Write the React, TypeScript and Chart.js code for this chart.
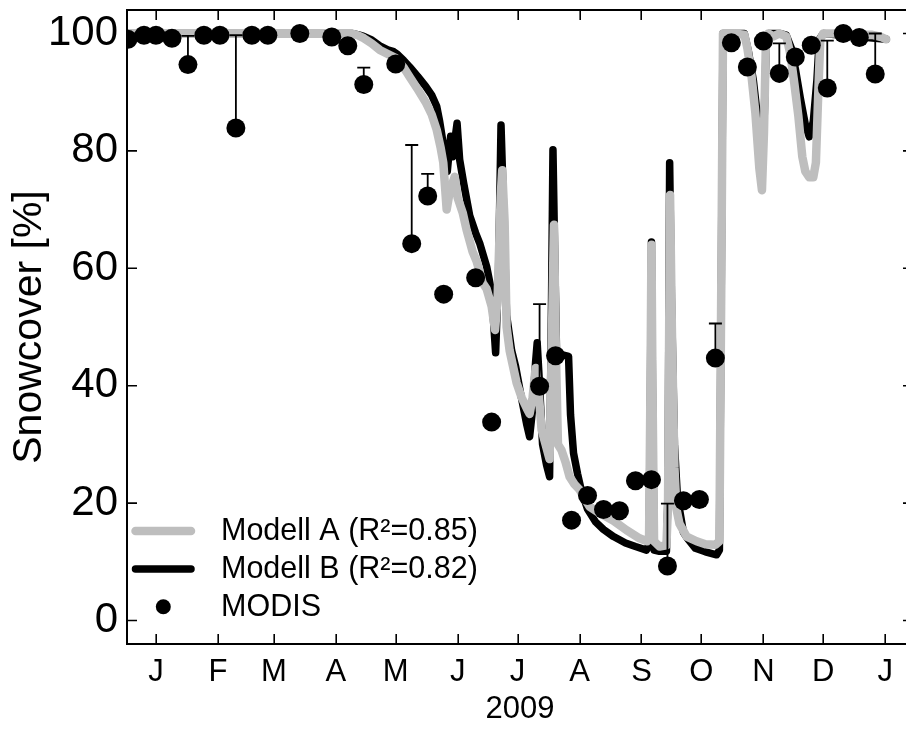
import React, { useEffect, useRef } from "react";
import { Chart, registerables } from "chart.js";

Chart.register(...registerables);

const FONT = "'Liberation Sans', Arial, Helvetica, sans-serif";

// x values are days relative to 1 Jan 2009
const monthStartDays = [0, 31, 59, 90, 120, 151, 181, 212, 243, 273, 304, 334, 365];
const monthLetters = ["J", "F", "M", "A", "M", "J", "J", "A", "S", "O", "N", "D", "J"];
const yTickValues = [0, 20, 40, 60, 80, 100];
const X_MIN = -14.5;
const X_MAX = 378.9; // the plot box ends just past the right edge of the picture

const modelADays = [
  -16, 0, 30, 60, 90, 98, 101, 104, 108, 112, 116, 120, 124, 127, 131, 135, 138, 140.5, 142.5, 143.8,
  145.5, 147, 149.5, 151, 153.5, 155.5, 158.5, 160.5, 163.5, 165.5, 168, 169.7, 171, 172.5, 173.3, 174.5,
  175.5, 177, 180.5, 183, 185.5, 187, 188.5, 190, 191.5, 193, 195, 197, 198, 199.2, 200.2, 201.2, 203,
  205, 207, 209.5, 212, 214.5, 217, 222, 229, 235.5, 242, 245.8, 246.8, 247.5, 248, 248.5, 249.3, 252,
  255.5, 256.3, 257.3, 258.2, 259.5, 260.5, 262, 265.6, 270.6, 275, 280, 282, 283, 283.8, 289, 294.5,
  296, 298, 300, 302, 303.3, 304.3, 305.3, 306.5, 309, 312, 315.5, 317.5, 319.5, 321.5, 323.5, 325, 327,
  329, 330.3, 331.5, 332.5, 334, 340, 350, 358, 363, 365.5,
];
const modelAValues = [
  100, 100, 100, 100, 100, 100, 99.7, 99.2, 98.3, 97.2, 96.5, 95.8, 94.2, 92.6, 90.5, 88.3, 86.2, 83.6, 80.5, 78,
  70, 73, 75.6, 72, 69.5, 66.5, 62.8, 61.2, 57.5, 56.5, 53.5, 49.5, 55, 72, 76.7, 68,
  50, 46, 40.5, 38, 36.2, 35.2, 38, 43, 39, 32.5, 30, 27.5, 45, 67.4, 45, 30, 29,
  27, 24.5, 23.2, 22.3, 20.8, 19.4, 18.3, 17, 15.4, 14, 13.5, 14, 40, 64, 40, 13.5, 12.6,
  12.8, 20, 72.5, 50, 26, 19, 16.5, 14.3, 13.5, 13, 12.9, 13.5, 60, 100, 100, 99.8,
  97.5, 93, 86.5, 77, 73.3, 83, 99, 100, 99.5, 100, 99.5, 96.5, 91.5, 86, 79, 76.5, 75.5,
  75.5, 78, 90, 99, 100, 100, 99.7, 99.8, 99.4, 99,
];

const modelBDays = [
  -16, 98, 101, 104, 108, 112, 116, 119, 121, 124, 127, 131, 135, 138, 140.5, 142, 143.5, 145.8, 147.5,
  148.5, 150.7, 152, 154, 157, 160, 162, 165.5, 168, 170, 171.5, 172.7, 174, 175.5, 178, 180, 182.5,
  185.5, 187, 188.5, 190, 190.8, 192, 193.5, 195.5, 197, 198, 198.7, 199.7, 200.5, 206.5, 207.5, 209,
  211, 213, 216, 220, 224, 229, 235, 240, 245.5, 246.8, 247.5, 248, 248.5, 249.3, 252, 255.5, 256.3,
  257.1, 258, 259.5, 261, 264, 266, 270, 275, 280.6, 282, 283, 283.8, 294.5, 296.5, 299, 301, 303,
  304.3, 305.5, 306.5, 312, 315.5, 318, 320, 322.5, 325, 327, 329, 330.8, 332, 334, 365.5,
];
const modelBValues = [
  100, 100, 99.8, 99.5, 98.9, 97.9, 97.2, 96.9, 96.4, 95.4, 94.3, 92.7, 91, 89.5, 87.6, 85, 81.8, 76.5, 82.5,
  79, 84.7, 78.5, 74.5, 69, 66, 64.3, 60.3, 56, 45.6, 60, 84.4, 70, 52, 46, 43.3, 38.7,
  33.5, 31.3, 36, 44, 47.3, 40, 30, 26.5, 24.5, 55, 80.2, 60, 45.5, 45, 35, 28.5,
  25, 22, 19, 16.8, 15.5, 14.3, 13.2, 12.6, 12, 13, 40, 64.5, 40, 12, 11.8, 11.8, 22,
  78, 55, 30, 21, 15, 14, 12.3, 11.7, 11.2, 12, 60, 100, 100, 97, 92, 86, 79.5,
  84, 99, 100, 100, 99.7, 97.5, 94, 89, 84.5, 82.4, 85, 92, 99, 100, 99,
];

const modisDays = [
  -14, -6, 0, 8, 16, 24, 32, 40, 48, 56, 72, 88, 96, 104, 120, 128, 136, 144, 160, 168, 192,
  200, 208, 216, 224, 232, 240, 248, 256, 264, 272, 280, 288, 296, 304, 312, 320, 328, 336, 344, 352, 360,
];
const modisValues = [
  99, 99.7, 99.7, 99.2, 94.7, 99.7, 99.7, 83.9, 99.7, 99.7, 100, 99.4, 97.9, 91.3, 94.8, 64.2, 72.3, 55.6, 58.4, 33.8, 39.9,
  45.1, 17.1, 21.3, 18.9, 18.7, 23.8, 24.0, 9.3, 20.4, 20.6, 44.7, 98.4, 94.3, 98.7, 93.2, 96.0, 98.0, 90.7, 100, 99.3, 93.1,
];
// upper end of the MODIS error bars (null = no bar)
const modisUpper = [
  null, null, null, null, 99.6, null, null, 99.7, null, null, null, null, null, 94.2, null, 81.0, 76.1, null, null, null, 53.9,
  null, null, null, null, null, null, null, 19.9, null, null, 50.6, null, null, null, 98.3, null, null, 98.8, null, null, 100,
];

const legendLabels = ["Modell A (R\u00B2=0.85)", "Modell B (R\u00B2=0.82)", "MODIS"];

const GRAY = "#bebebe";

const toXY = (xs: number[], ys: number[]) => xs.map((x, i) => ({ x, y: ys[i] }));

const errorBarPlugin = {
  id: "errorBars",
  afterDatasetsDraw(chart: any) {
    const { ctx, chartArea: a, scales } = chart;
    const x = scales.x;
    const y = scales.y;
    ctx.save();
    ctx.beginPath();
    ctx.rect(a.left, a.top, a.right - a.left, a.bottom - a.top);
    ctx.clip();
    ctx.strokeStyle = "#000";
    ctx.lineWidth = 1.8;
    ctx.lineCap = "butt";
    ctx.beginPath();
    modisDays.forEach((d, i) => {
      const up = modisUpper[i];
      if (up == null) return;
      const px = x.getPixelForValue(d);
      const p0 = y.getPixelForValue(modisValues[i]);
      const p1 = y.getPixelForValue(up);
      ctx.moveTo(px, p0);
      ctx.lineTo(px, p1);
      ctx.moveTo(px - 6.5, p1);
      ctx.lineTo(px + 6.5, p1);
    });
    ctx.stroke();
    ctx.restore();
  },
};

const framePlugin = {
  id: "frame",
  afterDraw(chart: any) {
    const { ctx, chartArea: a, scales } = chart;
    const x = scales.x;
    const y = scales.y;
    ctx.save();
    ctx.strokeStyle = "#000";
    ctx.lineWidth = 2;
    ctx.strokeRect(a.left, a.top, a.right - a.left, a.bottom - a.top);
    ctx.lineWidth = 1.6;
    ctx.beginPath();
    for (const t of x.ticks) {
      const px = Math.round(x.getPixelForValue(t.value)) + 0.2;
      ctx.moveTo(px, a.bottom);
      ctx.lineTo(px, a.bottom - 10);
      ctx.moveTo(px, a.top);
      ctx.lineTo(px, a.top + 10);
    }
    for (const t of y.ticks) {
      const py = y.getPixelForValue(t.value);
      ctx.moveTo(a.left, py);
      ctx.lineTo(a.left + 10, py);
      ctx.moveTo(a.right, py);
      ctx.lineTo(a.right - 10, py);
    }
    ctx.stroke();
    ctx.restore();
  },
};

const legendPlugin = {
  id: "customLegend",
  afterDraw(chart: any) {
    const { ctx } = chart;
    ctx.save();
    ctx.lineCap = "round";
    // Modell A
    ctx.strokeStyle = GRAY;
    ctx.lineWidth = 8.5;
    ctx.beginPath();
    ctx.moveTo(135.5, 531);
    ctx.lineTo(191, 531);
    ctx.stroke();
    // Modell B
    ctx.strokeStyle = "#000";
    ctx.lineWidth = 7.5;
    ctx.beginPath();
    ctx.moveTo(135.5, 569);
    ctx.lineTo(191, 569);
    ctx.stroke();
    // MODIS
    ctx.fillStyle = "#000";
    ctx.beginPath();
    ctx.arc(163.3, 606.7, 7.5, 0, Math.PI * 2);
    ctx.fill();
    ctx.font = `30.5px ${FONT}`;
    ctx.textBaseline = "middle";
    ctx.textAlign = "left";
    ctx.fillText(legendLabels[0], 221, 532);
    ctx.fillText(legendLabels[1], 221, 570);
    ctx.fillText(legendLabels[2], 221, 608);
    ctx.restore();
  },
};

const zeroPadding = (scale: any) => {
  scale.paddingTop = 0;
  scale.paddingBottom = 0;
  scale.paddingLeft = 0;
  scale.paddingRight = 0;
};

export default function App() {
  const ref = useRef<HTMLCanvasElement | null>(null);

  useEffect(() => {
    if (!ref.current) return;
    const chart = new Chart(ref.current, {
      type: "scatter",
      data: {
        datasets: [
          {
            label: legendLabels[2],
            data: toXY(modisDays, modisValues),
            pointRadius: 9.5,
            pointBackgroundColor: "#000",
            pointBorderWidth: 0,
            pointBorderColor: "#000",
            showLine: false,
            clip: 0,
          } as any,
          {
            label: legendLabels[0],
            data: toXY(modelADays, modelAValues),
            showLine: true,
            borderColor: GRAY,
            borderWidth: 8.5,
            pointRadius: 0,
            tension: 0,
            borderCapStyle: "round",
            borderJoinStyle: "round",
            clip: 0,
          } as any,
          {
            label: legendLabels[1],
            data: toXY(modelBDays, modelBValues),
            showLine: true,
            borderColor: "#000",
            borderWidth: 7.5,
            pointRadius: 0,
            tension: 0,
            borderCapStyle: "round",
            borderJoinStyle: "round",
            clip: 0,
          } as any,
        ],
      },
      options: {
        animation: false,
        responsive: false,
        events: [],
        layout: { autoPadding: false, padding: { top: 10, right: 1, left: 0, bottom: 0 } },
        plugins: {
          legend: { display: false },
          tooltip: { enabled: false },
        },
        scales: {
          x: {
            type: "linear",
            min: X_MIN,
            max: X_MAX,
            grid: { display: false, drawTicks: false },
            border: { display: false },
            afterBuildTicks: (scale: any) => {
              scale.ticks = monthStartDays.map((v) => ({ value: v }));
            },
            afterFit: (scale: any) => {
              scale.height = 87;
              zeroPadding(scale);
            },
            ticks: {
              autoSkip: false,
              maxRotation: 0,
              minRotation: 0,
              padding: 13,
              color: "#000",
              font: { family: FONT, size: 31, lineHeight: 1 },
              callback: (_v: any, i: number) => monthLetters[i],
            },
            title: {
              display: true,
              text: "2009",
              color: "#000",
              font: { family: FONT, size: 31, lineHeight: 1 },
              padding: { top: 0, bottom: 6.5 },
            },
          },
          y: {
            type: "linear",
            min: -4,
            max: 104,
            grid: { display: false, drawTicks: false },
            border: { display: false },
            afterBuildTicks: (scale: any) => {
              scale.ticks = yTickValues.map((v) => ({ value: v }));
            },
            afterFit: (scale: any) => {
              scale.width = 127;
              zeroPadding(scale);
            },
            ticks: {
              padding: 9,
              color: "#000",
              font: { family: FONT, size: 42, lineHeight: 1 },
              callback: (v: any) => String(v),
            },
            title: {
              display: true,
              text: "Snowcover [%]",
              color: "#000",
              font: { family: FONT, size: 41, lineHeight: 1 },
              padding: { top: 9.5, bottom: 0 },
            },
          },
        },
      },
      plugins: [errorBarPlugin, legendPlugin, framePlugin],
    } as any);
    return () => chart.destroy();
  }, []);

  return (
    <div
      style={{
        position: "fixed",
        left: 0,
        top: 0,
        width: 906,
        height: 731,
        overflow: "hidden",
        background: "#fff",
      }}
    >
      <div style={{ width: 914, height: 731, position: "relative" }}>
        <canvas ref={ref} width={914} height={731} style={{ width: 914, height: 731, display: "block" }} />
      </div>
    </div>
  );
}
